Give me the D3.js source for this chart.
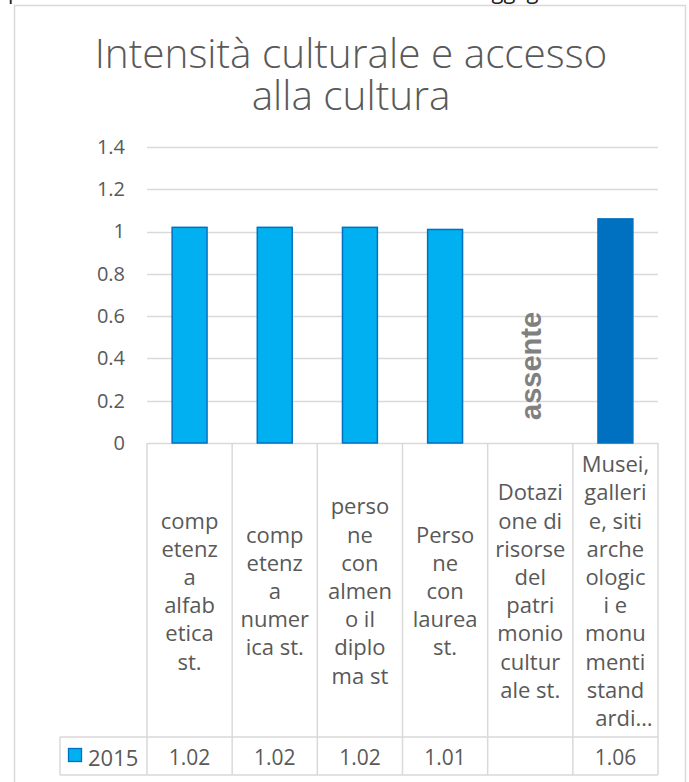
<!DOCTYPE html>
<html>
<head>
<meta charset="utf-8">
<script src="https://cdn.jsdelivr.net/npm/d3@7"></script>
<style>
  body { margin: 0; background: #fff; }
  svg { display: block; }
</style>
</head>
<body>
<svg id="chart" width="689" height="782"></svg>
<script>
// ---- data ----
const categories = [
  "competenza alfabetica st.",
  "competenza numerica st.",
  "persone con almeno il diploma st",
  "Persone con laurea st.",
  "Dotazione di risorse del patrimonio culturale st.",
  "Musei, gallerie, siti archeologici e monumenti standardizzati"
];
// category names as wrapped in the data table cells
const labelLines = [
  ["comp", "etenz", "a", "alfab", "etica", "st."],
  ["comp", "etenz", "a", "numer", "ica st."],
  ["perso", "ne", "con", "almen", "o il", "diplo", "ma st"],
  ["Perso", "ne", "con", "laurea", "st."],
  ["Dotazi", "one di", "risorse", "del", "patri", "monio", "cultur", "ale st."],
  ["Musei,", "galleri", "e, siti", "arche", "ologic", "i e", "monu", "menti", "stand", "ardi…"]
];
const seriesName = "2015";
const values = [1.02, 1.02, 1.02, 1.01, null, 1.06];
const valueLabels = ["1.02", "1.02", "1.02", "1.01", "", "1.06"];
const yTicks = [0, 0.2, 0.4, 0.6, 0.8, 1, 1.2, 1.4];
const titleLines = ["Intensità culturale e accesso", "alla cultura"];
const missingLabel = "assente";
const highlightCategory = categories[5];
const headerText = "quello dell'intensità culturale e dell'accesso ad oggi gli";

// ---- layout ----
const W = 689, H = 782;
const plot = { left: 147, right: 658, top: 147, bottom: 443 };
const table = { left: 60, labelBottom: 737, bottom: 775 };
const FONT = "'Open Sans', 'DejaVu Sans', sans-serif";
const TEXT = "#595959", GRID = "#d9d9d9";
const LIGHT = "#00b0f0", DARK = "#0070c0";

const svg = d3.select("#chart");

// text running above the chart frame (cut by the page edge)
svg.append("text")
  .attr("x", 0).attr("y", -1)
  .attr("font-family", FONT).attr("font-size", 22).attr("fill", "#222")
  .text(headerText);

// chart frame
svg.append("rect")
  .attr("x", 14.5).attr("y", 5.5).attr("width", 671).attr("height", 800)
  .attr("fill", "#fff").attr("stroke", GRID).attr("stroke-width", 1.5);

// title, two lines in one text element
svg.append("text")
  .attr("text-anchor", "middle")
  .attr("font-family", FONT).attr("font-weight", 300).attr("font-size", 40.5)
  .attr("fill", TEXT)
  .selectAll("tspan").data(titleLines).join("tspan")
  .attr("x", 351).attr("y", (d, i) => 68 + i * 42)
  .text(d => d);

// scales
const x = d3.scaleBand().domain(categories)
  .range([plot.left, plot.right]).paddingInner(0.59).paddingOuter(0.295);
const y = d3.scaleLinear().domain([0, 1.4]).range([plot.bottom, plot.top]);
const step = x.step();
const cellLeft = i => plot.left + i * step;

// gridlines
svg.append("g").selectAll("line").data(yTicks).join("line")
  .attr("x1", plot.left).attr("x2", plot.right)
  .attr("y1", d => Math.round(y(d)) + 0.5).attr("y2", d => Math.round(y(d)) + 0.5)
  .attr("stroke", GRID).attr("stroke-width", 1.3);

// y axis labels
const yAxis = d3.axisLeft(y).tickValues(yTicks).tickSize(0).tickPadding(0)
  .tickFormat(d3.format("~g"));
const yg = svg.append("g").attr("transform", "translate(125,0)").call(yAxis);
yg.select(".domain").remove();
yg.selectAll("text")
  .attr("font-family", FONT).attr("font-size", 20).attr("fill", TEXT);

// bars
const barData = categories.map((c, i) => ({ c, v: values[i] })).filter(d => d.v != null);
svg.append("g").selectAll("rect").data(barData).join("rect")
  .attr("x", d => x(d.c))
  .attr("width", x.bandwidth())
  .attr("y", d => y(d.v))
  .attr("height", d => y(0) - y(d.v))
  .attr("fill", d => d.c === highlightCategory ? DARK : LIGHT)
  .attr("stroke", DARK).attr("stroke-width", 1.5);

// label for the missing value
categories.forEach((c, i) => {
  if (values[i] != null) return;
  svg.append("text")
    .attr("transform", `translate(${x(c) + x.bandwidth() / 2 + 1},366) rotate(-90)`)
    .attr("text-anchor", "middle").attr("dominant-baseline", "central")
    .attr("font-family", "'Liberation Sans', Arial, sans-serif")
    .attr("font-weight", "bold").attr("font-size", 29).attr("fill", "#808080")
    .text(missingLabel);
});

// ---- data table ----
const tg = svg.append("g").attr("stroke", GRID).attr("stroke-width", 1.5);
// vertical cell borders
d3.range(categories.length + 1).forEach(i => {
  tg.append("line")
    .attr("x1", cellLeft(i)).attr("x2", cellLeft(i))
    .attr("y1", plot.bottom).attr("y2", table.bottom);
});
tg.append("line").attr("x1", table.left).attr("x2", table.left)
  .attr("y1", table.labelBottom).attr("y2", table.bottom);
[table.labelBottom, table.bottom].forEach(yy => {
  tg.append("line").attr("x1", table.left).attr("x2", plot.right)
    .attr("y1", yy).attr("y2", yy);
});

// category labels, vertically centred in their cells
const lineH = 28.2;
const labelMid = (plot.bottom + table.labelBottom) / 2;
labelLines.forEach((lines, i) => {
  const cx = x(categories[i]) + x.bandwidth() / 2;
  const y0 = labelMid - (lines.length - 1) * lineH / 2;
  lines.forEach((ln, j) => {
    const t = svg.append("text")
      .attr("y", y0 + j * lineH)
      .attr("dominant-baseline", "central")
      .attr("font-family", FONT).attr("font-size", 22).attr("fill", TEXT);
    if (ln.endsWith("…")) {
      // centre the word part, let the ellipsis run past it
      const stem = ln.slice(0, -1);
      t.text(stem);
      const w = t.node().getComputedTextLength();
      t.text(ln).attr("x", cx - w / 2).attr("text-anchor", "start");
    } else {
      t.attr("x", cx).attr("text-anchor", "middle").text(ln);
    }
  });
});

// value row
const rowMid = (table.labelBottom + table.bottom) / 2;
svg.append("g").selectAll("text").data(valueLabels).join("text")
  .attr("x", (d, i) => x(categories[i]) + x.bandwidth() / 2)
  .attr("y", rowMid + 1)
  .attr("text-anchor", "middle").attr("dominant-baseline", "central")
  .attr("font-family", FONT).attr("font-size", 21).attr("fill", TEXT)
  .text(d => d);

// legend key in the value row
svg.append("rect")
  .attr("x", 68.5).attr("y", 748.5).attr("width", 13).attr("height", 13)
  .attr("fill", LIGHT).attr("stroke", DARK).attr("stroke-width", 1.3);
svg.append("text")
  .attr("x", 88).attr("y", rowMid + 1)
  .attr("dominant-baseline", "central")
  .attr("font-family", FONT).attr("font-size", 22).attr("fill", TEXT)
  .text(seriesName);
</script>
</body>
</html>
